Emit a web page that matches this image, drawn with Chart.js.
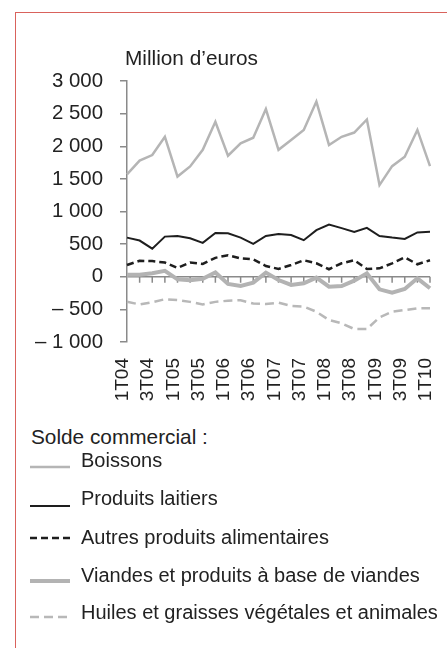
<!DOCTYPE html>
<html lang="fr">
<head>
<meta charset="utf-8">
<script src="https://cdn.jsdelivr.net/npm/chart.js@4.4.1/dist/chart.umd.min.js"></script>
<style>
  html, body { margin: 0; padding: 0; background: #fff; }
  body { width: 447px; height: 648px; position: relative; overflow: hidden;
         font-family: "Liberation Sans", Arial, sans-serif; color: #222; }
  #frame { position: absolute; left: 15px; top: 12px; width: 600px; height: 800px;
           border: 1.5px solid #d9625c; }
  #wrap { position: absolute; left: 0; top: 0; width: 447px; height: 420px; }
  .txt { position: absolute; font-size: 20.8px; line-height: 24px; white-space: nowrap; }
  .item { font-size: 20px; }
  #legendLines { position: absolute; left: 0; top: 0; }
</style>
</head>
<body>
<div id="frame"></div>
<div id="wrap"><canvas id="chart" width="447" height="420"></canvas></div>
<div class="txt" style="left:125px; top:46px;">Million d’euros</div>
<div id="legend"></div>
<script>
// quarterly trade balance, million euros
const quarters = ['1T04','2T04','3T04','4T04','1T05','2T05','3T05','4T05','1T06','2T06','3T06','4T06',
                  '1T07','2T07','3T07','4T07','1T08','2T08','3T08','4T08','1T09','2T09','3T09','4T09','1T10'];
const boissons = [1570,1780,1865,2145,1535,1690,1945,2375,1855,2045,2130,2570,1945,2095,2250,2685,2020,2145,2210,2410,1405,1695,1840,2250,1695];
const laitiers = [600,555,430,615,625,590,520,670,665,600,505,625,655,640,560,715,800,745,685,750,625,600,580,680,690];
const autres   = [180,245,240,218,135,218,196,290,330,282,267,165,120,180,253,206,115,206,253,118,129,206,298,191,253];
const viandes  = [30,30,55,90,-40,-55,-30,65,-110,-140,-90,63,-50,-126,-100,-14,-152,-142,-60,53,-193,-244,-188,-24,-177];
const huiles   = [-382,-425,-390,-345,-356,-385,-425,-385,-367,-360,-410,-418,-398,-448,-459,-536,-663,-714,-801,-801,-622,-536,-510,-484,-484];
const yTicks = [-1000,-500,0,500,1000,1500,2000,2500,3000];

const axisGray = '#8a8a8a';
const fontFamily = '"Liberation Sans", Arial, sans-serif';

const fmt = v => {
  const s = Math.abs(v).toString().replace(/\B(?=(\d{3})+(?!\d))/g, ' ');
  return v < 0 ? '– ' + s : s;
};

const datasets = [
  { label: 'Boissons', data: boissons, borderColor: '#b5b5b5', borderWidth: 2.5, legendDy: 7 },
  { label: 'Produits laitiers', data: laitiers, borderColor: '#1e1e1e', borderWidth: 2, legendDy: 8 },
  { label: 'Autres produits alimentaires', data: autres, borderColor: '#1e1e1e', borderWidth: 2.5, borderDash: [7, 4], legendDy: 1 },
  { label: 'Viandes et produits à base de viandes', data: viandes, borderColor: '#b3b3b3', borderWidth: 4, legendDy: 6 },
  { label: 'Huiles et graisses végétales et animales', data: huiles, borderColor: '#b8b8b8', borderWidth: 2.5, borderDash: [9, 5], legendDy: 5 }
];

// little tick marks hanging under the zero line
const zeroTicks = {
  id: 'zeroTicks',
  beforeDatasetsDraw(chart) {
    const { ctx, scales: { x, y } } = chart;
    const y0 = y.getPixelForValue(0);
    ctx.save();
    ctx.strokeStyle = axisGray;
    ctx.lineWidth = 1.5;
    ctx.beginPath();
    quarters.forEach((q, i) => {
      if (i === 0) return;
      const px = x.getPixelForValue(i);
      ctx.moveTo(px, y0);
      ctx.lineTo(px, y0 + 6);
    });
    ctx.stroke();
    ctx.restore();
  }
};

new Chart(document.getElementById('chart'), {
  type: 'line',
  data: {
    labels: quarters,
    datasets: datasets.map(d => ({
      label: d.label, data: d.data, borderColor: d.borderColor, borderWidth: d.borderWidth,
      borderDash: d.borderDash || [], fill: false, tension: 0, pointRadius: 0
    }))
  },
  options: {
    responsive: false,
    animation: false,
    layout: { padding: { top: 81, right: 17, left: 0, bottom: 0 } },
    plugins: { legend: { display: false }, tooltip: { enabled: false } },
    scales: {
      x: {
        grid: { display: false, drawTicks: false },
        border: { display: false },
        ticks: {
          autoSkip: false, maxRotation: 90, minRotation: 90, padding: 16, labelOffset: -4,
          color: '#222', font: { family: fontFamily, size: 19 },
          callback: (v, i) => (i % 2 === 0 ? quarters[i] : '')
        },
        afterFit: s => { s.height = 78; s.paddingLeft = 0; s.paddingRight = 0; }
      },
      y: {
        min: -1000, max: 3000,
        afterBuildTicks: s => { s.ticks = yTicks.map(v => ({ value: v })); },
        ticks: {
          padding: 17, color: '#222',
          font: { family: fontFamily, size: 20.4 },
          callback: v => fmt(v)
        },
        grid: {
          drawOnChartArea: true, tickLength: 7, lineWidth: 1.5, tickColor: axisGray,
          color: c => (c.tick && c.tick.value === 0 ? axisGray : 'rgba(0,0,0,0)')
        },
        border: { color: axisGray, width: 1.5 },
        afterFit: s => { s.width = 127; }
      }
    }
  },
  plugins: [zeroTicks]
});

// legend below the chart
const legend = document.getElementById('legend');
const head = document.createElement('div');
head.className = 'txt';
head.style.left = '31px';
head.style.top = '425px';
head.textContent = 'Solde commercial :';
legend.appendChild(head);

const rowCenters = [460, 498, 537, 575, 612];
const svgNS = 'http://www.w3.org/2000/svg';
const svg = document.createElementNS(svgNS, 'svg');
svg.setAttribute('id', 'legendLines');
svg.setAttribute('width', '447');
svg.setAttribute('height', '648');
legend.appendChild(svg);
datasets.forEach((d, i) => {
  const t = document.createElement('div');
  t.className = 'txt item';
  t.style.left = '81px';
  t.style.top = (rowCenters[i] - 12) + 'px';
  t.textContent = d.label;
  legend.appendChild(t);
  const ln = document.createElementNS(svgNS, 'line');
  const ly = rowCenters[i] + d.legendDy;
  ln.setAttribute('x1', '30'); ln.setAttribute('x2', '70');
  ln.setAttribute('y1', ly); ln.setAttribute('y2', ly);
  ln.setAttribute('stroke', d.borderColor);
  ln.setAttribute('stroke-width', d.borderWidth);
  if (d.borderDash) ln.setAttribute('stroke-dasharray', d.borderDash.join(' '));
  svg.appendChild(ln);
});
</script>
</body>
</html>
